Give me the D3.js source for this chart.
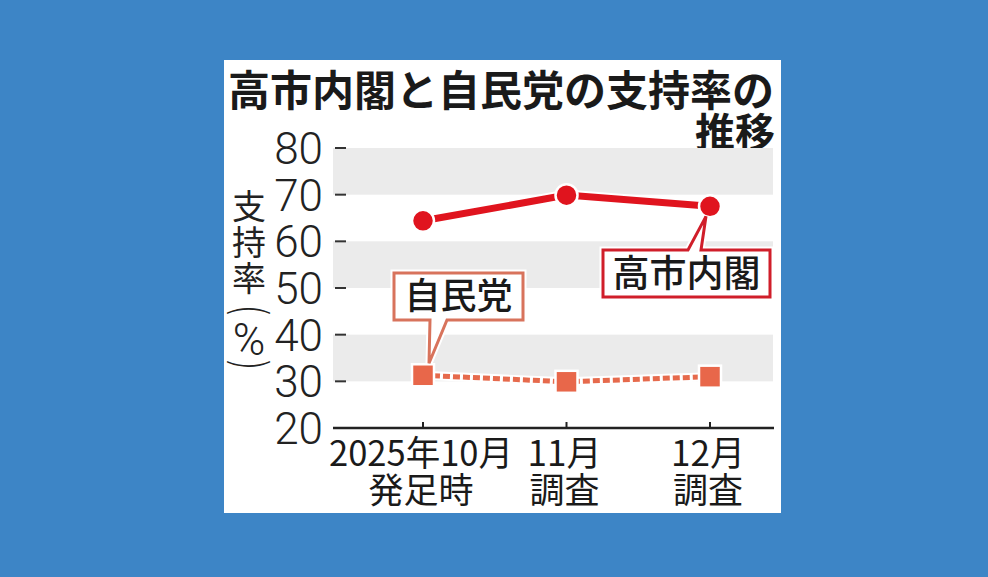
<!DOCTYPE html>
<html>
<head>
<meta charset="utf-8">
<script src="https://cdn.jsdelivr.net/npm/d3@7"></script>
<style>
  body { margin:0; background:#3d85c6; }
  svg { display:block; }
</style>
</head>
<body>
<svg id="chart" width="988" height="577"></svg>
<script>
// data
var categories = [["2025年10月","発足時"],["11月","調査"],["12月","調査"]];
var cabinet = [64.4, 69.9, 67.5];   // 高市内閣
var ldp = [31.3, 29.9, 31.0];       // 自民党
var yTicks = [20,30,40,50,60,70,80];
var bands = [[30,40],[50,60],[70,80]];

var svg = d3.select('#chart');
var jp = '"Noto Sans CJK JP", sans-serif';

// white panel
svg.append('rect')
   .attr('x',224).attr('y',60)
   .attr('width',557).attr('height',453)
   .attr('fill','#fff');

var x = d3.scaleLinear().domain([0,2]).range([423,710]);
var y = d3.scaleLinear().domain([20,80]).range([428,148]);

// title
svg.append('text')
   .attr('x',501).attr('y',106)
   .attr('text-anchor','middle')
   .style('font-family',jp).style('font-weight',700).style('font-size','42px')
   .attr('textLength',546).attr('lengthAdjust','spacingAndGlyphs')
   .attr('fill','#1a1a1a')
   .text('高市内閣と自民党の支持率の');
svg.append('text')
   .attr('x',775).attr('y',147)
   .attr('text-anchor','end')
   .style('font-family',jp).style('font-weight',700).style('font-size','40px')
   .attr('fill','#1a1a1a')
   .text('推移');

// grey bands
svg.selectAll('.band')
   .data(bands)
   .enter()
   .append('rect')
   .classed('band',true)
   .attr('x',333).attr('width',440)
   .attr('y', d => y(d[1]))
   .attr('height', d => y(d[0]) - y(d[1]))
   .attr('fill','#ebebeb');

// y ticks
var yAxis = svg.append('g');
yAxis.selectAll('.ytick')
   .data(yTicks)
   .enter()
   .append('text')
   .attr('x',323)
   .attr('y', d => y(d) + 16)
   .attr('text-anchor','end')
   .style('font-family','Roboto, sans-serif').style('font-weight',300).style('font-size','44px')
   .attr('fill','#222')
   .text(d => d);
yAxis.selectAll('.ydash')
   .data(yTicks.filter(d => d > 20))
   .enter()
   .append('line')
   .attr('x1',335).attr('x2',346)
   .attr('y1', d => y(d)).attr('y2', d => y(d))
   .attr('stroke','#333').attr('stroke-width',2);

// x axis line and ticks
svg.append('line')
   .attr('x1',333).attr('x2',774)
   .attr('y1',y(20)).attr('y2',y(20))
   .attr('stroke','#222').attr('stroke-width',2.5);
svg.selectAll('.xtick')
   .data(categories)
   .enter()
   .append('line')
   .attr('x1',(d,i) => x(i)).attr('x2',(d,i) => x(i))
   .attr('y1',y(20)).attr('y2',y(20)-6)
   .attr('stroke','#222').attr('stroke-width',2);

var xl = svg.selectAll('.xlab')
   .data(categories)
   .enter()
   .append('g');
xl.append('text')
   .attr('x',(d,i) => x(i) - 2).attr('y',466)
   .attr('text-anchor','middle')
   .style('font-family',jp).style('font-size','35px')
   .attr('fill','#1a1a1a')
   .attr('textLength',(d,i) => i === 0 ? 184 : null)
   .attr('lengthAdjust','spacingAndGlyphs')
   .text(d => d[0]);
xl.append('text')
   .attr('x',(d,i) => x(i) - 2).attr('y',503)
   .attr('text-anchor','middle')
   .style('font-family',jp).style('font-size','35px')
   .attr('fill','#1a1a1a')
   .text(d => d[1]);

// y label 支持率(%) - vertical, one glyph per line
var yLabel = svg.append('g').attr('transform','translate(249,0)');
['支','持','率'].forEach(function(c,i){
  yLabel.append('text')
    .attr('x',0).attr('y',219 + i*36)
    .attr('text-anchor','middle')
    .style('font-family',jp).style('font-size','34px')
    .attr('fill','#222')
    .text(c);
});
// brackets turned sideways
[['(',311],[')',364]].forEach(function(p){
  yLabel.append('text')
     .attr('text-anchor','middle').attr('dominant-baseline','central')
     .style('font-family','"DejaVu Sans", sans-serif').style('font-weight',300)
     .style('font-size','34px')
     .attr('transform','translate(0,'+p[1]+') rotate(90) scale(1,1.4)')
     .attr('fill','#222')
     .text(p[0]);
});
yLabel.append('text')
   .attr('x',0).attr('y',355)
   .attr('text-anchor','middle')
   .style('font-family','Roboto, sans-serif').style('font-weight',300).style('font-size','44px').attr('fill','#222')
   .text('%');

// 自民党 dotted line
var line = d3.line().x((d,i) => x(i)).y(d => y(d));
var ldpG = svg.append('g');
ldpG.append('path')
   .attr('d',line(ldp))
   .attr('fill','none').attr('stroke','#fff').attr('stroke-width',9);
ldpG.append('path')
   .attr('d',line(ldp))
   .attr('fill','none').attr('stroke','#e66a4c').attr('stroke-width',5)
   .attr('stroke-dasharray','7,3');
ldpG.selectAll('rect')
   .data(ldp)
   .enter()
   .append('rect')
   .attr('x',(d,i) => x(i) - 11).attr('y',d => y(d) - 11)
   .attr('width',22).attr('height',22)
   .attr('fill','#e8674a').attr('stroke','#fff').attr('stroke-width',2.5);

// 高市内閣 line
var cabG = svg.append('g');
cabG.append('path')
   .attr('d',line(cabinet))
   .attr('fill','none').attr('stroke','#fff').attr('stroke-width',11);
cabG.append('path')
   .attr('d',line(cabinet))
   .attr('fill','none').attr('stroke','#e0141e').attr('stroke-width',7);
cabG.selectAll('circle')
   .data(cabinet)
   .enter()
   .append('circle')
   .attr('cx',(d,i) => x(i)).attr('cy',d => y(d))
   .attr('r',11)
   .attr('fill','#e0141e').attr('stroke','#fff').attr('stroke-width',2.5);

// callouts
function callout(tx,ty,bx,by,bw,bh,p1,p2,color,label,fs,below){
  var d;
  if (below) {
    // pointer on the bottom edge
    d = 'M'+bx+','+by+' H'+(bx+bw)+' V'+(by+bh)+' H'+p2+' L'+tx+','+ty+' L'+p1+','+(by+bh)+' H'+bx+' Z';
  } else {
    d = 'M'+bx+','+by+' H'+p1+' L'+tx+','+ty+' L'+p2+','+by+' H'+(bx+bw)+' V'+(by+bh)+' H'+bx+' Z';
  }
  var g = svg.append('g');
  g.append('path').attr('d',d)
   .attr('fill','none').attr('stroke','#fff').attr('stroke-width',7).attr('stroke-linejoin','miter');
  g.append('path').attr('d',d)
   .attr('fill','#fff').attr('stroke',color).attr('stroke-width',3).attr('stroke-linejoin','miter');
  g.append('text')
   .attr('x',bx+bw/2).attr('y',by+bh/2+fs*0.36)
   .attr('text-anchor','middle')
   .style('font-family',jp).style('font-weight',500).style('font-size',fs+'px')
   .attr('fill','#1a1a1a')
   .text(label);
}
callout(x(2)-4, y(cabinet[2])+10, 603, 250, 167, 47, 688, 701, '#d01e2a', '高市内閣', 37, false);
callout(x(0)+6, y(ldp[0])-12, 394, 273, 129, 47, 430, 447, '#d8735c', '自民党', 36, true);
</script>
</body>
</html>
